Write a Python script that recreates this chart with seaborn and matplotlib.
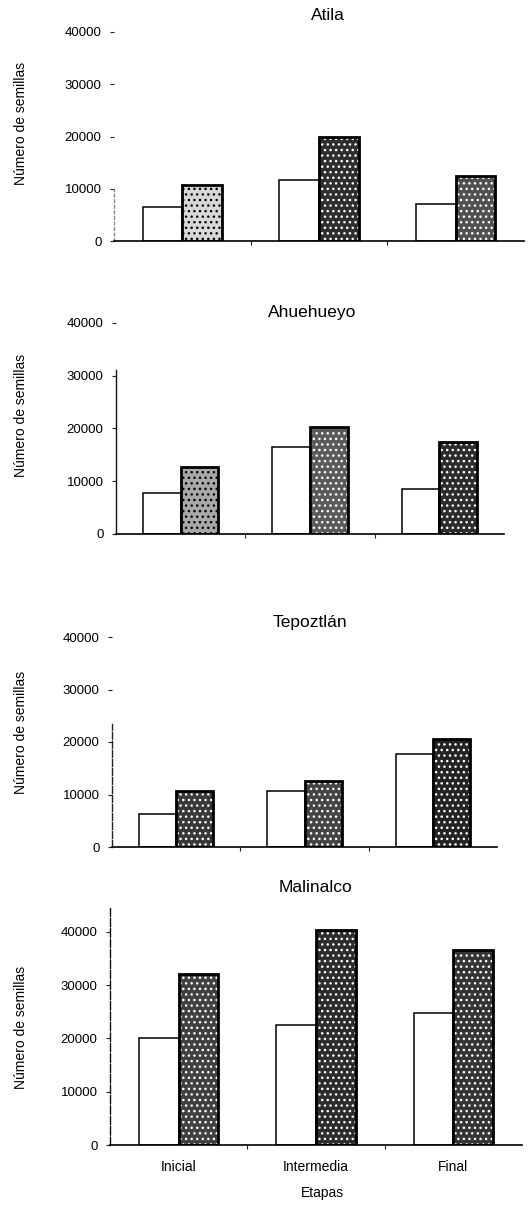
import matplotlib
matplotlib.use("Agg")
import matplotlib.pyplot as plt
import matplotlib.colors as mcolors
import seaborn as sns
import pandas as pd

# ---------------- data ----------------
etapas = ["Inicial", "Intermedia", "Final"]
sitios = ["Atila", "Ahuehueyo", "Tepoztlán", "Malinalco"]
series = ["Serie 1", "Serie 2"]

atila_s1 = [6500, 11600, 7000]
atila_s2 = [10800, 20000, 12500]
ahuehueyo_s1 = [7700, 16500, 8500]
ahuehueyo_s2 = [12700, 20300, 17400]
tepoztlan_s1 = [6300, 10600, 17800]
tepoztlan_s2 = [10600, 12500, 20600]
malinalco_s1 = [20000, 22600, 24800]
malinalco_s2 = [32200, 40300, 36600]

valores_s1 = [atila_s1, ahuehueyo_s1, tepoztlan_s1, malinalco_s1]
valores_s2 = [atila_s2, ahuehueyo_s2, tepoztlan_s2, malinalco_s2]

yticks = [0, 10000, 20000, 30000, 40000]

# ---------------- style ----------------
sns.set_style("ticks")
plt.rcParams["font.family"] = ["Liberation Sans", "DejaVu Sans"]
plt.rcParams["hatch.linewidth"] = 1.0
for k in ["text.color", "axes.labelcolor", "xtick.color", "ytick.color", "xtick.labelcolor", "ytick.labelcolor"]:
    plt.rcParams[k] = "black"

W, H = 528, 1205
fig = plt.figure(figsize=(W / 100, H / 100), dpi=100)

# left px, right px, zero px, top px, ymax
layout = [
    (114, 524, 241, 32, 40000),
    (116, 504, 534, 323, 40000),
    (112, 497, 847, 637, 40000),
    (110, 522, 1145, 908, 44500),
]
title_pos = [(328, 16), (312, 312), (310, 622), (315, 887)]
ylabel_center = [123, 415, 732, 1027]
left_spine = [
    dict(bounds=(0, 10000), color="#8a8a8a", ls=(0, (2, 2))),
    dict(bounds=(0, 31000), color="#111111", ls="-"),
    dict(bounds=(0, 23500), color="#222222", ls=(0, (5, 1.5))),
    dict(bounds=(0, 44500), color="#111111", ls=(0, (6, 1.5))),
]
# fill shades of the stippled bars
shades = [
    ["#d8d8d8", "#2e2e2e", "#505050"],
    ["#a8a8a8", "#5a5a5a", "#2c2c2c"],
    ["#383838", "#444444", "#242424"],
    ["#404040", "#2c2c2c", "#343434"],
]
light_fill = [
    [True, False, False],
    [True, False, False],
    [False, False, False],
    [False, False, False],
]

palette = {"Serie 1": "white", "Serie 2": "#555555"}

for i, sitio in enumerate(sitios):
    l, r, z, t, ymax = layout[i]
    ax = fig.add_axes([l / W, 1 - z / H, (r - l) / W, (z - t) / H])
    df = pd.DataFrame({
        "Etapa": etapas * 2,
        "Serie": [series[0]] * 3 + [series[1]] * 3,
        "Valor": valores_s1[i] + valores_s2[i],
    })
    sns.barplot(data=df, x="Etapa", y="Valor", hue="Serie", order=etapas,
                hue_order=series, palette=palette, width=0.58, saturation=1,
                edgecolor="black", linewidth=1.1, errorbar=None, legend=False,
                ax=ax)

    for j, p in enumerate(ax.containers[1]):
        p.set_facecolor(shades[i][j])
        p.set_linewidth(2.0)
        p.set_hatch("...")
        hc = "black" if light_fill[i][j] else "white"
        try:
            p.set_hatchcolor(hc)
        except AttributeError:
            p._hatch_color = mcolors.to_rgba(hc)

    ax.set_xlim(-0.5, 2.5)
    ax.set_ylim(0, ymax)
    ax.set_yticks(yticks)
    ax.set_yticklabels([str(v) for v in yticks])
    ax.tick_params(axis="y", length=3, width=0.8, direction="out", pad=6,
                   labelsize=9.5, color="#222222")

    ax.set_xticks([0.5, 1.5], minor=True)
    ax.tick_params(axis="x", which="minor", length=3, width=0.8, direction="out",
                   color="#222222")
    ax.set_xticks([0, 1, 2])
    if i < 3:
        ax.set_xticklabels([])
        ax.tick_params(axis="x", which="major", length=0)
        ax.set_xlabel("")
    else:
        ax.set_xticklabels(etapas)
        ax.tick_params(axis="x", which="major", length=0, pad=11, labelsize=10)
        ax.set_xlabel("Etapas", fontsize=10)
        ax.xaxis.set_label_coords((322 - l) / (r - l), (z - 1186) / (z - t))

    for s in ["top", "right"]:
        ax.spines[s].set_visible(False)
    ax.spines["bottom"].set_color("black")
    ax.spines["bottom"].set_linewidth(1.2)
    ls = left_spine[i]
    ax.spines["left"].set_bounds(*ls["bounds"])
    ax.spines["left"].set_color(ls["color"])
    ax.spines["left"].set_linestyle(ls["ls"])
    ax.spines["left"].set_linewidth(1.0)

    ax.set_ylabel("Número de semillas", fontsize=10)
    ax.yaxis.set_label_coords((28 - l) / (r - l), (z - ylabel_center[i]) / (z - t))

    tx, ty = title_pos[i]
    fig.text(tx / W, 1 - ty / H, sitio, ha="center", va="center", fontsize=12.5)

fig.savefig("out.png", dpi=100, facecolor="white")
